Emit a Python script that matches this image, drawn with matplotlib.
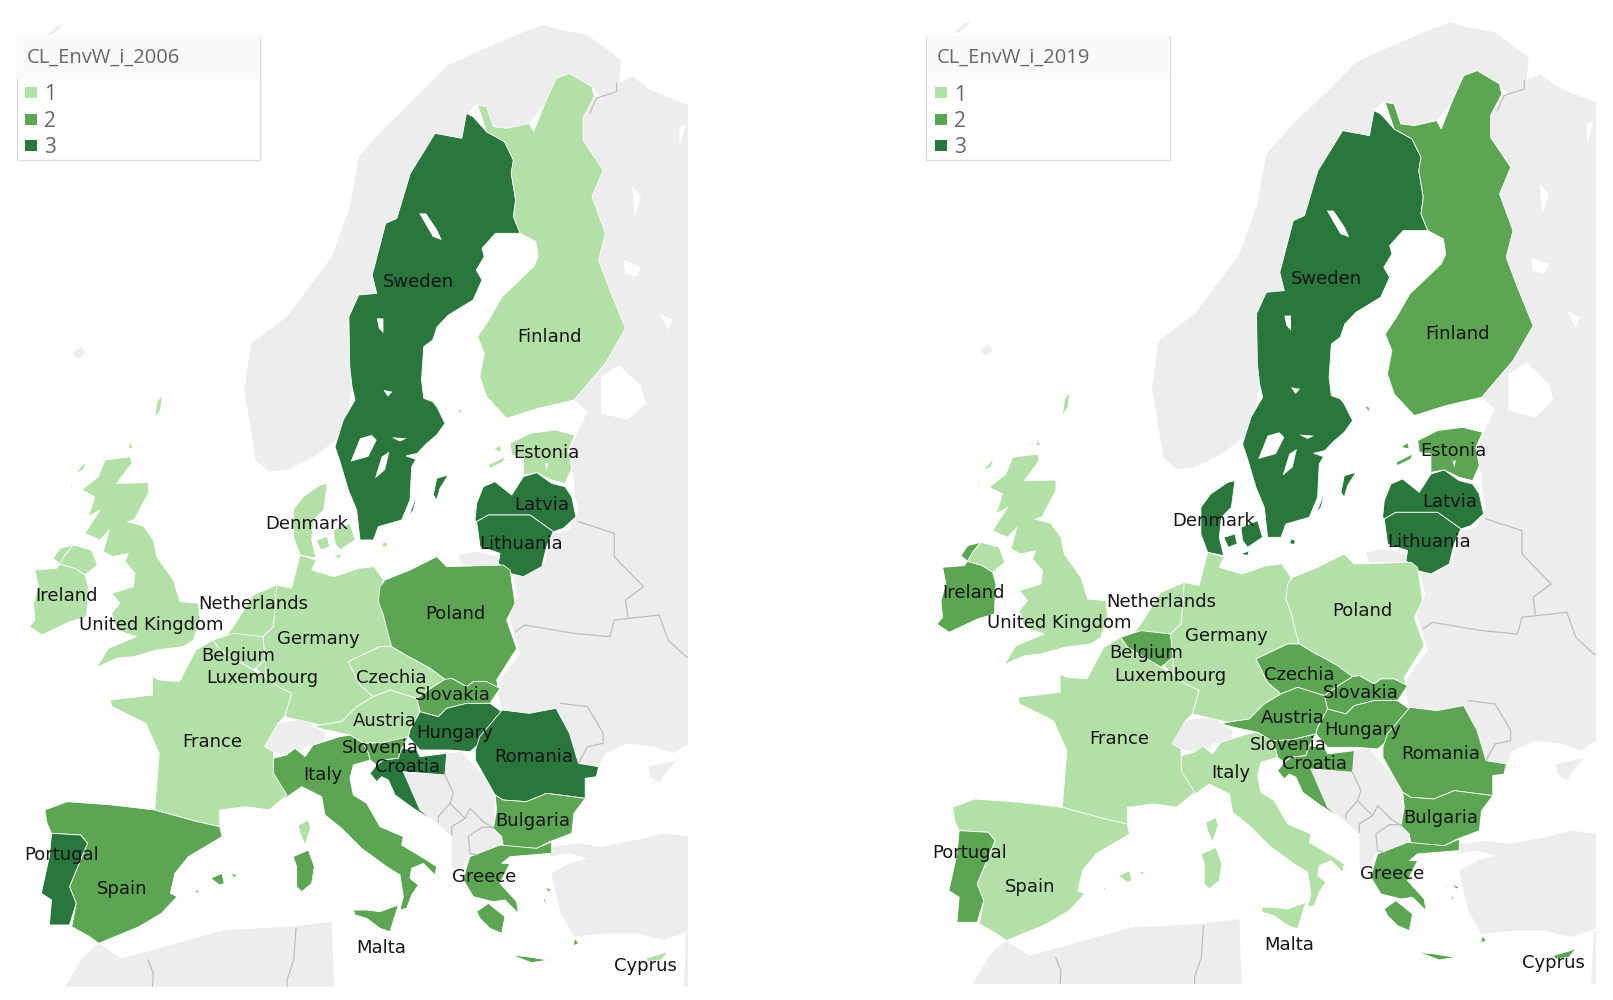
import matplotlib
matplotlib.use("Agg")
import matplotlib.pyplot as plt
from matplotlib.patches import Rectangle

W, H = 1613, 1000
MAP_W, MAP_H = 1535, 2960

colors = {1: "#B3E0A6", 2: "#5BA553", 3: "#2A773E"}
land = "#EDEDED"
border = "#BDBDBD"


def crop(x0, y0, pts):
    return [((px / 3 + x0) * 2.23, py + 3 * y0) for px, py in pts]


# grey land
norway = [(570,1380),(600,1415),(640,1410),(700,1370),(750,1320),(770,1280),(785,1160),(780,1100),(778,950),(800,885),(840,880),(830,825),(860,670),(885,655),(915,520),(945,455),(970,400),(1030,415),(1040,340),(1065,310),(1100,380),(1130,385),(1180,370),(1215,310),(1240,235),(1270,220),(1320,260),(1345,300),(1380,250),(1385,180),(1310,105),(1250,90),(1210,75),(1150,105),(1090,140),(1000,195),(930,290),(860,380),(800,470),(780,620),(740,770),(690,860),(640,950),(560,1030),(545,1170)]
east = [(1325,290),(1345,300),(1380,250),(1410,230),(1450,270),(1543,320),(1543,2225),(1500,2260),(1460,2240),(1400,2230),(1350,2260),(1335,2300),(1290,2290),(1270,2200),(1240,2125),(1180,2140),(1120,2130),(1110,2080),(1115,2040),(1160,1960),(1135,1850),(1155,1790),(1140,1710),(1170,1730),(1215,1690),(1225,1620),(1240,1600),(1270,1590),(1290,1530),(1280,1470),(1280,1430),(1265,1370),(1285,1305),(1310,1235),(1280,1200),(1350,1090),(1395,985),(1360,870),(1335,780),(1350,700),(1320,590),(1345,510),(1300,420),(1300,355)]
crimea = [(1445,2300),(1480,2290),(1510,2280),(1490,2310),(1470,2350),(1450,2330)]
turkey = [(1230,2540),(1290,2530),(1340,2540),(1420,2520),(1480,2500),(1543,2510),(1543,2790),(1480,2820),(1420,2800),(1350,2800),(1280,2810),(1250,2740),(1230,2620),(1270,2590),(1310,2575),(1270,2560),(1225,2570)]
levant = [(1530,2800),(1543,2800),(1543,2960),(1525,2960)]
africa = [(145,2960),(185,2870),(220,2830),(270,2875),(340,2850),(500,2790),(650,2780),(740,2765),(745,2960)]
balkans = crop(270, 720, [(390,155),(525,165),(525,100),(575,95),(605,130),(640,170),(675,190),(675,240),(670,325),(695,350),(690,375),(620,405),(590,410),(580,445),(545,445),(545,350),(495,305),(450,270),(400,185)])
switzerland = [(590,2240),(620,2170),(690,2155),(700,2180),(725,2200),(720,2245),(685,2235),(660,2270),(610,2255)]
kaliningrad = crop(330, 400, [(385,465),(440,455),(505,470),(505,495),(395,495)])
faroes = [(160,1060),(180,1040),(190,1060),(175,1075)]
svalbard = [(105,105),(125,80),(140,70),(130,90),(115,105)]
grey_shapes = [norway, east, crimea, turkey, levant, africa, balkans, switzerland, kaliningrad, faroes, svalbard]

# borders between non-EU countries
belarus_line = [(1150,1895),(1170,1875),(1280,1900),(1360,1910),(1370,1860),(1470,1845),(1490,1920),(1530,1970),(1543,1975)]
russia_line = [(1290,1565),(1370,1600),(1370,1670),(1435,1760),(1395,1800),(1400,1850)]
moldova_line = [(1250,2110),(1310,2120),(1345,2200),(1345,2230),(1310,2240),(1290,2290)]
finnmark_line = [(1315,340),(1330,295),(1375,275),(1375,250)]
algeria_line = [(330,2880),(342,2920),(340,2960)]
libya_line = [(660,2785),(655,2880),(640,2940),(640,2960)]
bih_line = crop(270, 720, [(525,165),(550,220),(540,250),(505,290),(505,305)])
serbia_line = crop(270, 720, [(540,250),(585,295),(600,265),(640,305),(670,325)])
kosovo_line = crop(270, 720, [(585,295),(545,320),(545,345)])
macedonia_line = crop(270, 720, [(670,322),(635,322),(595,350),(600,400),(620,405)])
lines = [belarus_line, russia_line, moldova_line, finnmark_line, algeria_line, libya_line, bih_line, serbia_line, kosovo_line, macedonia_line]

# countries
sweden = [[(1040,340),(1055,350),(1085,395),(1125,425),(1145,480),(1140,520),(1150,600),(1145,650),(1160,700),(1105,700),(1075,745),(1080,770),(1062,810),(1075,840),(1055,900),(1000,945),(975,980),(965,1020),(945,1040),(940,1140),(945,1195),(965,1205)]
          + crop(330, 400, [(320,20),(345,70),(320,105),(285,135),(262,160),(228,168),(258,178),(245,200),(240,300),(215,360),(145,380),(130,420),(90,420),(80,330),(55,270),(30,185),(15,140),(40,60),(75,0)])
          + [(785,1160),(780,1100),(778,950),(800,885),(840,880),(830,825),(860,670),(885,655),(915,520),(945,455),(970,400),(1030,415)],
          crop(330, 400, [(310,285),(320,235),(355,225),(330,265),(320,300)]),
          crop(330, 400, [(235,350),(265,275),(250,330)])]
finland = [[(1065,315),(1085,320),(1100,380),(1130,385),(1180,370),(1190,395),(1215,310),(1240,235),(1270,220),(1320,260),(1325,290),(1300,355),(1300,420),(1345,510),(1320,590),(1350,700),(1335,780),(1360,870),(1395,985),(1350,1090),(1280,1200),(1200,1225),(1130,1255),(1085,1190),(1070,1130),(1080,1060),(1065,1010),(1090,960),(1120,890),(1190,800),(1200,770),(1195,725),(1160,700),(1145,650),(1150,600),(1140,520),(1145,480),(1125,425),(1085,395)],
           crop(330, 400, [(380,25),(395,30),(395,45)])]
estonia = [crop(330, 400, [(540,130),(600,100),(675,90),(735,105),(715,150),(725,205),(705,250),(665,240),(620,218),(580,225),(580,170),(545,165)]),
           crop(330, 400, [(475,195),(525,170),(520,185),(480,205)]),
           crop(330, 400, [(490,150),(510,135),(515,155)])]
latvia = [crop(330, 400, [(435,360),(440,310),(460,260),(495,245),(545,285),(580,230),(620,218),(665,250),(705,260),(725,290),(738,350),(700,385),(670,395),(600,345),(475,345),(440,365)])]
lithuania = [crop(330, 400, [(440,365),(475,345),(600,345),(670,395),(650,440),(635,500),(580,530),(540,520),(505,490),(510,460),(450,440)])]
denmark = [[(654,1530),(676,1490),(714,1455),(730,1450),(722,1530),(700,1560),(695,1620),(705,1675),(669,1665),(654,1610)],
           [(705,1620),(730,1610),(735,1640),(715,1650)],
           crop(330, 400, [(10,390),(60,370),(75,420),(30,450),(15,430)]),
           crop(330, 400, [(10,470),(35,460),(30,475)]),
           [(855,1625),(865,1630),(862,1642),(852,1638)]]
ireland = [crop(20, 440, [(45,390),(110,385),(120,372),(165,385),(195,405),(205,440),(200,530),(150,545),(65,585),(28,560),(45,540),(40,490),(55,440)]),
           crop(20, 440, [(100,355),(120,325),(160,315),(135,345),(120,372)])]
uk = [crop(20, 440, [(255,60),(330,50),(335,70),(290,130),(385,128),(385,160),(350,225),(345,238),(322,245),(370,258),(400,300),(410,350),(460,420),(480,485),(535,490),(540,540),(520,600),(490,620),(410,630),(340,650),(290,655),(230,682),(265,625),(350,590),(290,570),(275,520),(300,490),(275,460),(340,440),(345,400),(315,365),(325,340),(280,350),(250,335),(268,270),(240,300),(195,280),(240,210),(205,230),(225,170),(185,150),(235,110)]),
      crop(20, 440, [(135,345),(160,315),(215,330),(232,375),(195,405),(165,385),(120,372)]),
      crop(20, 440, [(165,100),(200,62),(190,90)]),
      crop(20, 440, [(150,130),(160,160),(155,130)]),
      crop(20, 440, [(330,5),(340,25),(325,25)]),
      [(345,1255),(350,1205),(362,1185),(358,1230)]]
netherlands = [crop(20, 440, [(640,560),(700,465),(770,435),(815,445),(805,490),(765,520),(760,560),(730,590),(620,585)])]
germany = [[(669,1665),(705,1680),(695,1710),(745,1730),(800,1705),(835,1700),(855,1740)]
           + crop(270, 560, [(325,125),(340,165),(355,225),(365,260),(330,260),(235,305),(270,375),(310,410),(260,440),(215,485),(150,495)])
           + [(635,2150),(650,2080),(620,2060),(590,2030),(592,1980),(586,1910)]
           + [(610,1880),(617,1755),(650,1765)]]
belgium = [[(475,1920),(520,1900),(586,1910),(592,1980),(565,2010),(490,1950)]]
luxembourg = [[(570,2005),(592,1980),(592,2030)]]
poland = [crop(270, 560, [(330,80),(345,60),(420,30),(500,-10),(530,20),(700,15),(720,30),(735,130),(710,180),(740,265),(680,360),(685,385),(650,365),(610,365),(590,380),(545,355),(525,360),(480,325),(435,300),(415,290),(365,260),(355,225),(340,165),(325,125)])]
czechia = [crop(270, 560, [(235,305),(330,260),(365,260),(415,290),(435,300),(480,325),(525,358),(490,380),(440,415),(360,390),(310,410),(270,375)])]
slovakia = [crop(270, 560, [(440,415),(490,380),(525,358),(545,355),(590,380),(610,365),(650,365),(690,385),(660,430),(590,430),(530,445),(505,470),(450,455)])]
austria = [crop(270, 560, [(130,500),(150,495),(215,485),(260,440),(310,410),(360,390),(440,415),(450,455),(420,510),(415,530),(340,548),(280,550),(240,525),(170,510)])]
hungary = [crop(270, 560, [(450,455),(505,470),(530,445),(590,430),(660,430),(695,455),(630,550),(600,575),(540,570),(450,570),(415,530),(420,510)])]
slovenia = [crop(270, 720, [(280,70),(340,68),(415,50),(390,95),(385,115),(340,120),(320,135),(300,120),(295,100)])]
croatia = [crop(270, 720, [(320,135),(340,120),(385,115),(395,85),(440,90),(450,110),(530,100),(525,165),(400,155),(450,270),(495,305),(430,265),(375,225),(355,180),(335,170),(320,185),(300,160)])]
romania = [[(1120,2130),(1180,2140),(1240,2125),(1270,2200),(1290,2290),(1335,2300),(1330,2330),(1305,2335),(1305,2395),(1219,2380),(1174,2405),(1122,2400),(1104,2385),(1060,2280),(1060,2250),(1070,2210)]]
bulgaria = [[(1104,2385),(1122,2400),(1174,2405),(1219,2380),(1305,2395),(1280,2440),(1275,2500),(1226,2525)]
            + crop(270, 720, [(800,385),(700,380),(695,350),(670,325),(680,270)])]
greece = [crop(270, 720, [(600,410),(690,375),(800,385),(845,365),(845,400),(780,405),(720,410),(695,430),(720,430),(690,490),(740,545),(745,580),(705,540),(670,545),(610,530),(580,480),(590,440)]),
          crop(270, 720, [(620,575),(655,550),(705,590),(695,640),(660,625),(630,595)]),
          crop(270, 720, [(722,705),(770,710),(835,720),(785,728),(750,715)]),
          crop(270, 720, [(825,500),(845,510),(835,515)]),
          crop(270, 720, [(820,540),(830,555),(825,535)]),
          [(1282,2815),(1290,2830),(1278,2838)]]
italy = [crop(270, 720, [(10,115),(50,105),(75,85),(105,110),(130,75),(210,50),(240,45),(280,70),(295,100),(300,120),(250,135),(240,175),(250,225),(290,250),(330,320),(400,350),(395,375),(470,420),(500,440),(495,465),(460,430),(425,445),(420,475),(445,495),(425,525),(410,565),(390,570),(400,530),(390,465),(350,440),(275,385),(215,325),(165,285),(155,230),(95,200),(45,235),(15,200),(10,160)]),
         crop(270, 720, [(250,570),(290,570),(330,575),(385,555),(360,635),(330,625),(290,595),(255,585)]),
         crop(270, 720, [(70,410),(115,390),(133,440),(125,490),(95,515),(80,500),(80,440)])]
france = [[(340,2030),(355,2040),(400,2045),(437,1950),(475,1920),(490,1950),(565,2010),(590,2030),(620,2060),(650,2080),(635,2150),(620,2170),(590,2240),(610,2255),(610,2320),(640,2385),(600,2430),(550,2420),(490,2430),(490,2480),(440,2465),(345,2430),(355,2260),(325,2170),(250,2120),(245,2100),(340,2085)],
          crop(270, 720, [(85,315),(115,300),(122,325),(105,375),(90,340)])]
spain = [[(100,2430),(150,2405),(250,2415),(345,2430),(440,2465),(490,2480),(495,2510),(420,2570),(390,2620),(380,2680),(395,2690),(360,2740),(310,2780),(220,2830),(200,2810),(160,2780),(170,2710),(155,2660),(195,2530),(180,2505),(115,2500),(105,2470)],
         [(470,2635),(495,2620),(500,2650),(490,2655)],
         [(515,2620),(530,2625),(522,2632)],
         [(435,2675),(442,2668),(442,2680)]]
portugal = [[(115,2500),(180,2505),(195,2530),(155,2660),(170,2710),(155,2775),(110,2775),(115,2700),(92,2680),(110,2570)]]
cyprus = [[(1440,2875),(1490,2855),(1475,2880),(1445,2885)]]
malta = [[(862,2825),(866,2825),(866,2829)]]

countries = ["Sweden", "Finland", "Estonia", "Latvia", "Lithuania", "Denmark", "Ireland", "United Kingdom", "Netherlands", "Germany", "Belgium", "Luxembourg", "Poland", "Czechia", "Slovakia", "Austria", "Hungary", "Slovenia", "Croatia", "Romania", "Bulgaria", "Greece", "Italy", "France", "Spain", "Portugal", "Cyprus", "Malta"]
shapes = [sweden, finland, estonia, latvia, lithuania, denmark, ireland, uk, netherlands, germany, belgium, luxembourg, poland, czechia, slovakia, austria, hungary, slovenia, croatia, romania, bulgaria, greece, italy, france, spain, portugal, cyprus, malta]
levels_2006 = [3, 1, 1, 3, 3, 1, 1, 1, 1, 1, 1, 1, 2, 1, 2, 1, 3, 2, 3, 3, 2, 2, 2, 1, 2, 3, 1, 1]
levels_2019 = [3, 2, 2, 3, 3, 3, 2, 1, 1, 1, 2, 1, 1, 2, 2, 2, 2, 2, 2, 2, 2, 2, 1, 1, 1, 2, 2, 1]
label_x = [933, 1226, 1218, 1208, 1163, 683, 148, 338, 565, 710, 532, 585, 1015, 873, 1010, 858, 1015, 848, 908, 1190, 1188, 1080, 720, 473, 273, 138, 1440, 850]
label_y = [846, 1011, 1360, 1515, 1633, 1571, 1788, 1876, 1813, 1916, 1968, 2035, 1841, 2033, 2086, 2163, 2198, 2243, 2300, 2271, 2463, 2631, 2326, 2226, 2668, 2566, 2898, 2843]

# lakes
lakes = [crop(330, 400, [(62,185),(90,115),(125,105),(140,120),(115,170)]),
         crop(330, 400, [(135,235),(155,170),(178,155),(165,210)]),
         crop(330, 400, [(185,112),(230,115),(210,125)]),
         crop(330, 400, [(645,190),(655,190),(650,210)]),
         [(935,640),(950,640),(975,690),(985,720),(965,710)],
         [(840,955),(855,955),(855,1000),(845,985)],
         [(855,1170),(875,1175),(865,1190)],
         [(1340,1130),(1380,1095),(1430,1160),(1440,1210),(1400,1260),(1340,1240)],
         [(1390,780),(1430,800),(1420,830),(1395,820)],
         [(1470,940),(1500,960),(1490,990)],
         [(1515,380),(1530,370),(1515,440)],
         [(1410,560),(1430,590),(1415,650)]]

legend_labels = ["1", "2", "3"]
legend_y = [278, 357, 436]


def draw_map(x0, y0, levels, title, legend_dx):
    ax = fig.add_axes([x0 / W, 1 - (y0 + MAP_H / 3) / H, MAP_W / 2.23 / W, MAP_H / 3 / H])
    ax.set_xlim(0, MAP_W)
    ax.set_ylim(MAP_H, 0)
    ax.axis("off")
    for s in grey_shapes:
        ax.fill(*zip(*s), color=land, lw=0)
    for s in lines:
        ax.plot(*zip(*s), color=border, lw=0.9)
    for rings, lev in zip(shapes, levels):
        for r in rings:
            ax.fill(*zip(*r), facecolor=colors[lev], edgecolor="white", lw=0.6)
    for s in lakes:
        ax.fill(*zip(*s), color="white", lw=0)
    for name, x, y in zip(countries, label_x, label_y):
        ax.text(x, y, name, ha="center", va="center", fontsize=13, color="#151515", family="DejaVu Sans")

    # legend box
    lx = 37 + legend_dx
    ly = 110 - y0 * 3
    ax.add_patch(Rectangle((lx, ly), 543, 370, fc="white", ec="#DDDDDD", lw=1, zorder=5))
    ax.add_patch(Rectangle((lx + 1, ly + 1), 541, 127, fc="#FAFAFA", lw=0, zorder=6))
    ax.text(lx + 23, ly + 62, title, ha="left", va="center", fontsize=14.5, color="#666666", family="Open Sans", zorder=7)
    for lab, lev, yy in zip(legend_labels, [1, 2, 3], legend_y):
        ax.add_patch(Rectangle((lx + 18, yy - y0 * 3 - 16), 27, 33, fc=colors[lev], lw=0, zorder=7))
        ax.text(lx + 62, yy - y0 * 3 + 7, lab, ha="left", va="center", fontsize=15, color="#666666", family="Open Sans", zorder=7)


fig = plt.figure(figsize=(W / 100, H / 100), dpi=100, facecolor="white")
draw_map(0, 0, levels_2006, "CL_EnvW_i_2006", 0)
draw_map(907.6, -2.7, levels_2019, "CL_EnvW_i_2019", 5)
fig.savefig("out.png", dpi=100)
